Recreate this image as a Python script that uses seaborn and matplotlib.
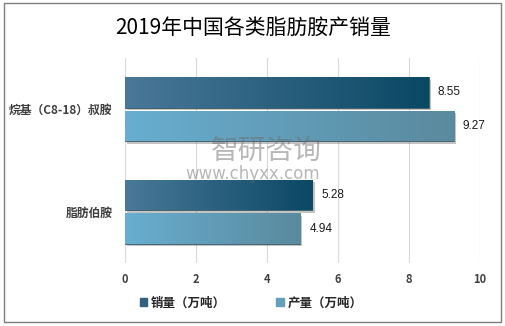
import matplotlib
matplotlib.use('Agg')
import matplotlib.pyplot as plt
import seaborn as sns
import pandas as pd
import numpy as np
from matplotlib import patheffects as pe
from matplotlib.colors import LinearSegmentedColormap
from matplotlib.patches import Rectangle

categories = ["烷基（C8-18）叔胺", "脂肪伯胺"]
series = ["销量（万吨）", "产量（万吨）"]
sales = [8.55, 5.28]
production = [9.27, 4.94]
x_ticks = [0, 2, 4, 6, 8, 10]
title = "2019年中国各类脂肪胺产销量"

sns.set_theme(style="white")
plt.rcParams['font.family'] = ['Noto Sans CJK SC', 'DejaVu Sans']

df = pd.DataFrame({
    "category": categories * 2,
    "series": [series[0]] * 2 + [series[1]] * 2,
    "value": sales + production,
})

W, H = 506, 326
fig = plt.figure(figsize=(W / 100, H / 100), dpi=100)
ax = fig.add_axes([125 / W, 1 - 263 / H, 355 / W, 205 / H])

palette = {series[0]: "#2f6282", series[1]: "#63a0bc"}
sns.barplot(data=df, y="category", x="value", hue="series", order=categories,
            hue_order=series, palette=palette, width=0.66, gap=0.1, orient='h',
            ax=ax, legend=False, saturation=1, edgecolor="#3a5a6a", linewidth=0.6)

grads = [
    LinearSegmentedColormap.from_list("g1", ["#4a7898", "#0a4864"]),
    LinearSegmentedColormap.from_list("g2", ["#68aed0", "#5a8a9e"]),
]
grad = np.linspace(0, 1, 256).reshape(1, -1)
for ci, cont in enumerate(ax.containers):
    for patch in cont.patches:
        patch.set_path_effects([pe.SimplePatchShadow(offset=(1.5, -1.8), alpha=0.35, shadow_rgbFace="#555555"), pe.Normal()])
        x0, y0 = patch.get_x(), patch.get_y()
        w, h = patch.get_width(), patch.get_height()
        im = ax.imshow(grad, cmap=grads[ci], aspect='auto',
                       extent=[x0, x0 + w, y0 + h, y0], zorder=patch.get_zorder() + 0.1)
        im.set_clip_path(patch)
        ax.text(x0 + w + 0.25, y0 + h / 2, f"{w:.2f}", va='center', ha='left',
                fontsize=8.5, color='#1a1a1a', family=['Liberation Sans', 'DejaVu Sans'])

ax.set_xlim(0, 10)
ax.set_ylim(1.5, -0.5)
ax.set_xticks(x_ticks)
ax.set_xticklabels([str(t) for t in x_ticks], fontsize=8, fontweight='bold', color='#404040')
ax.set_yticklabels(categories, fontsize=8.5, fontweight='bold', color='#404040')
ax.tick_params(axis='x', length=0, pad=7)
ax.tick_params(axis='y', length=0, pad=9)
ax.set_xlabel("")
ax.set_ylabel("")
ax.grid(axis='x', color='#d9d9d9', linewidth=0.8)
ax.set_axisbelow(True)
for s in ax.spines.values():
    s.set_visible(False)

fig.text(0.5, 1 - 28 / H, title, ha='center', va='center', fontsize=15,
         fontweight='medium', color='black')

handles = [Rectangle((0, 0), 1, 1, color="#2f6282"), Rectangle((0, 0), 1, 1, color="#63a0bc")]
fig.legend(handles, series, loc='center', bbox_to_anchor=(251 / W, 1 - 303 / H), ncol=2,
           frameon=False, handlelength=0.6, handleheight=0.6, columnspacing=4,
           handletextpad=0.3, prop={'weight': 'bold', 'size': 9})

# watermark
fig.text(266 / W, 1 - 151 / H, "智研咨询", ha='center', va='center', fontsize=20,
         color='#707070', alpha=0.5)
fig.text(253 / W, 1 - 174 / H, "www.chyxx.com", ha='center', va='center', fontsize=12,
         color='#707070', alpha=0.5, family=['DejaVu Sans'])

fig.add_artist(Rectangle((4 / W, 1 - 322 / H), 497 / W, 319 / H, transform=fig.transFigure,
                         fill=False, edgecolor='#7f7f7f', linewidth=1))

fig.savefig("out.png", dpi=100)
